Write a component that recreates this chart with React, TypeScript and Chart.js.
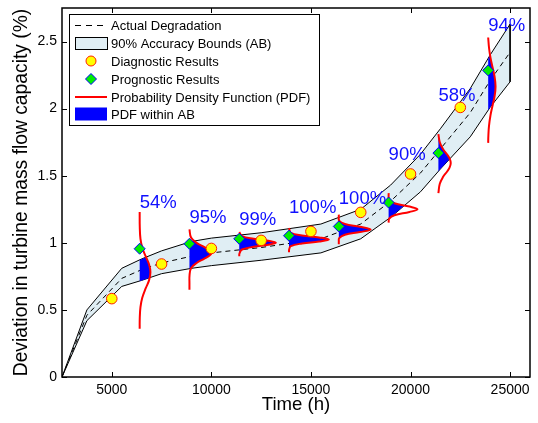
import React, { useEffect, useRef } from 'react';
import { Chart, registerables } from 'chart.js';

Chart.register(...registerables);

const FONT = '"Liberation Sans", Arial, Helvetica, sans-serif';

const xTickValues = [5000, 10000, 15000, 20000, 25000];
const yTickValues = [0, 0.5, 1, 1.5, 2, 2.5];

// Actual degradation and 90% accuracy bounds
const degTime = [2500, 3750, 5500, 6500, 7500, 9000, 10000, 12500, 15500, 17500, 19000, 20500, 21500, 23000, 24000, 25000];
const degValue = [0, 0.46, 0.735, 0.8, 0.85, 0.9, 0.925, 0.965, 1.03, 1.14, 1.31, 1.52, 1.7, 1.97, 2.21, 2.42];
const upperBound = [0, 0.5, 0.81, 0.88, 0.94, 1.01, 1.035, 1.075, 1.14, 1.25, 1.43, 1.66, 1.85, 2.15, 2.4, 2.63];
const lowerBound = [0, 0.42, 0.675, 0.72, 0.77, 0.81, 0.83, 0.87, 0.925, 1.03, 1.19, 1.38, 1.55, 1.79, 2.01, 2.2];

// Diagnostic results
const diagTime = [5000, 7500, 10000, 12500, 15000, 17500, 20000, 22500];
const diagValue = [0.584, 0.842, 0.958, 1.018, 1.085, 1.227, 1.513, 2.009];

// Prognostic results
const progTime = [6400, 8900, 11400, 13900, 16400, 18900, 21400, 23900];
const progValue = [0.956, 0.993, 1.03, 1.053, 1.122, 1.3, 1.669, 2.285];

// Percentage labels
const pdfLabels = ['54%', '95%', '99%', '100%', '100%', '90%', '58%', '94%'];
const labelY = [1.26, 1.15, 1.13, 1.224, 1.29, 1.614, 2.054, 2.575];

// PDF curves: deviation values and horizontal extent (h) from the prognosis time
const pdf1Y = [1.23, 1.12, 1.03, 0.96, 0.9, 0.84, 0.78, 0.72, 0.66, 0.59, 0.52, 0.44, 0.36];
const pdf1W = [0, 5, 40, 140, 300, 470, 540, 470, 300, 130, 40, 5, 0];
const pdf2Y = [1.1, 1.04, 1.0, 0.97, 0.945, 0.925, 0.905, 0.88, 0.85, 0.81, 0.76, 0.7, 0.65];
const pdf2W = [0, 80, 360, 730, 1010, 1100, 1010, 730, 360, 80, 5, 0, 0];
const pdf3Y = [1.08, 1.05, 1.03, 1.015, 1.0, 0.985, 0.97, 0.95, 0.92, 0.9];
const pdf3W = [0, 140, 725, 1460, 1840, 1460, 725, 140, 10, 0];
const pdf4Y = [1.11, 1.075, 1.055, 1.04, 1.025, 1.01, 0.995, 0.975, 0.95, 0.93];
const pdf4W = [0, 90, 650, 1510, 2000, 1510, 650, 90, 5, 0];
const pdf5Y = [1.21, 1.165, 1.14, 1.12, 1.1, 1.08, 1.06, 1.035, 1.01, 0.99];
const pdf5W = [0, 20, 307, 1060, 1600, 1060, 307, 20, 0, 0];
const pdf6Y = [1.37, 1.32, 1.295, 1.27, 1.25, 1.23, 1.205, 1.18, 1.15];
const pdf6W = [0, 30, 290, 1050, 1450, 1050, 290, 30, 0];
const pdf7Y = [1.81, 1.75, 1.7, 1.66, 1.63, 1.595, 1.56, 1.53, 1.49, 1.44, 1.37];
const pdf7W = [0, 70, 230, 430, 560, 620, 560, 430, 230, 70, 0];
const pdf8Y = [2.53, 2.45, 2.38, 2.31, 2.24, 2.165, 2.09, 2.02, 1.95, 1.87, 1.8, 1.745];
const pdf8W = [0, 45, 115, 215, 320, 370, 320, 215, 115, 40, 10, 0];

const pdfYs = [pdf1Y, pdf2Y, pdf3Y, pdf4Y, pdf5Y, pdf6Y, pdf7Y, pdf8Y];
const pdfWs = [pdf1W, pdf2W, pdf3W, pdf4W, pdf5W, pdf6W, pdf7W, pdf8W];

const BAND_FILL = '#e0eef4';
const PDF_BLUE = '#0000ff';
const PDF_RED = '#ff0000';

const pdfFillPlugin = {
  id: 'pdfFill',
  beforeDatasetDraw(chart: any, args: any) {
    const ds = chart.data.datasets[args.index];
    if (ds.pdfBase === undefined) return;
    const ctx = chart.ctx;
    const bandMeta = chart.getDatasetMeta(0);
    const meta = args.meta;
    const line = meta.dataset;
    const pts = meta.data;
    const basePx = chart.scales.x.getPixelForValue(ds.pdfBase);
    ctx.save();
    ctx.beginPath();
    const bp = bandMeta.data;
    ctx.moveTo(bp[0].x, bp[0].y);
    for (let i = 1; i < bp.length; i++) ctx.lineTo(bp[i].x, bp[i].y);
    ctx.closePath();
    ctx.clip();
    ctx.beginPath();
    if (line && typeof line.path === 'function') {
      if (typeof line.updateControlPoints === 'function') line.updateControlPoints(chart.chartArea, meta.indexAxis);
      line.path(ctx);
    } else {
      ctx.moveTo(pts[0].x, pts[0].y);
      for (let i = 1; i < pts.length; i++) ctx.lineTo(pts[i].x, pts[i].y);
    }
    ctx.lineTo(basePx, pts[pts.length - 1].y);
    ctx.lineTo(basePx, pts[0].y);
    ctx.closePath();
    ctx.fillStyle = PDF_BLUE;
    ctx.fill();
    ctx.restore();
  },
};

const labelPlugin = {
  id: 'pdfLabels',
  afterDatasetsDraw(chart: any) {
    const { ctx, scales } = chart;
    ctx.save();
    ctx.font = `18.5px ${FONT}`;
    ctx.fillStyle = '#1010ff';
    ctx.textAlign = 'left';
    ctx.textBaseline = 'alphabetic';
    pdfLabels.forEach((t, i) => {
      ctx.fillText(t, scales.x.getPixelForValue(progTime[i]), scales.y.getPixelForValue(labelY[i]));
    });
    ctx.restore();
  },
};

const framePlugin = {
  id: 'frameLegend',
  afterDraw(chart: any) {
    const { ctx, chartArea: a, scales } = chart;
    ctx.save();
    ctx.strokeStyle = '#000';
    ctx.lineWidth = 1;
    ctx.beginPath();
    for (const v of xTickValues) {
      const px = Math.round(scales.x.getPixelForValue(v)) + 0.5;
      ctx.moveTo(px, a.bottom);
      ctx.lineTo(px, a.bottom - 5);
      ctx.moveTo(px, a.top);
      ctx.lineTo(px, a.top + 5);
    }
    for (const v of yTickValues) {
      const py = Math.round(scales.y.getPixelForValue(v)) + 0.5;
      ctx.moveTo(a.left, py);
      ctx.lineTo(a.left + 5, py);
      ctx.moveTo(a.right, py);
      ctx.lineTo(a.right - 5, py);
    }
    ctx.stroke();
    ctx.lineWidth = 1.5;
    ctx.strokeRect(a.left, a.top, a.right - a.left, a.bottom - a.top);

    // Legend
    const L = a.left + 7;
    const T = a.top + 6;
    ctx.fillStyle = '#fff';
    ctx.fillRect(L, T, 250, 111);
    ctx.lineWidth = 1;
    ctx.strokeStyle = '#000';
    ctx.strokeRect(L + 0.5, T + 0.5, 250, 111);
    const sx0 = L + 6;
    const sx1 = L + 38;
    const tx = L + 42;
    const rows = [T + 11, T + 29, T + 47, T + 65, T + 83, T + 100];
    ctx.beginPath();
    ctx.setLineDash([6, 5]);
    ctx.moveTo(sx0, rows[0] + 0.5);
    ctx.lineTo(sx1, rows[0] + 0.5);
    ctx.stroke();
    ctx.setLineDash([]);
    ctx.fillStyle = BAND_FILL;
    ctx.fillRect(sx0 + 0.5, rows[1] - 5.5, 32, 12);
    ctx.strokeRect(sx0 + 0.5, rows[1] - 5.5, 32, 12);
    const cx = (sx0 + sx1) / 2;
    ctx.beginPath();
    ctx.arc(cx, rows[2], 5, 0, Math.PI * 2);
    ctx.fillStyle = '#ffff00';
    ctx.fill();
    ctx.strokeStyle = '#ff2000';
    ctx.stroke();
    ctx.beginPath();
    ctx.moveTo(cx - 5.5, rows[3]);
    ctx.lineTo(cx, rows[3] - 5.5);
    ctx.lineTo(cx + 5.5, rows[3]);
    ctx.lineTo(cx, rows[3] + 5.5);
    ctx.closePath();
    ctx.fillStyle = '#00ee00';
    ctx.fill();
    ctx.strokeStyle = '#0000ff';
    ctx.stroke();
    ctx.beginPath();
    ctx.strokeStyle = PDF_RED;
    ctx.lineWidth = 2;
    ctx.moveTo(sx0, rows[4]);
    ctx.lineTo(sx1, rows[4]);
    ctx.stroke();
    ctx.fillStyle = PDF_BLUE;
    ctx.fillRect(sx0, rows[5] - 6.5, 32, 13);
    ctx.fillStyle = '#000';
    ctx.font = `13px ${FONT}`;
    ctx.textAlign = 'left';
    ctx.textBaseline = 'middle';
    const texts = [
      'Actual Degradation',
      '90% Accuracy Bounds (AB)',
      'Diagnostic Results',
      'Prognostic Results',
      'Probability Density Function (PDF)',
      'PDF within AB',
    ];
    texts.forEach((t, i) => ctx.fillText(t, tx, rows[i] + 1));
    ctx.restore();
  },
};

export default function App() {
  const ref = useRef<HTMLCanvasElement>(null);
  useEffect(() => {
    const canvas = ref.current;
    if (!canvas) return;
    Chart.defaults.font.family = FONT;
    const bandData = [
      ...degTime.map((t, i) => ({ x: t, y: upperBound[i] })),
      ...degTime.map((t, i) => ({ x: t, y: lowerBound[i] })).reverse(),
    ];
    const pdfDatasets = pdfYs.map((ys, k) => ({
      label: 'PDF ' + (k + 1),
      data: ys.map((y, i) => ({ x: progTime[k] + pdfWs[k][i], y })),
      pdfBase: progTime[k],
      borderColor: PDF_RED,
      borderWidth: 2,
      pointRadius: 0,
      tension: 0.4,
      fill: false,
      order: 5,
    }));
    const zeroPad = (s: any) => {
      s.paddingTop = 0;
      s.paddingBottom = 0;
      s.paddingLeft = 0;
      s.paddingRight = 0;
    };
    const chart = new Chart(canvas, {
      type: 'line',
      data: {
        datasets: [
          {
            label: 'AB',
            data: bandData,
            fill: 'shape',
            backgroundColor: BAND_FILL,
            borderColor: '#000',
            borderWidth: 1,
            pointRadius: 0,
            tension: 0,
            order: 10,
          },
          {
            label: 'Actual Degradation',
            data: degTime.map((t, i) => ({ x: t, y: degValue[i] })),
            borderColor: '#000',
            borderWidth: 1,
            borderDash: [5, 4],
            pointRadius: 0,
            fill: false,
            order: 9,
          },
          ...pdfDatasets,
          {
            label: 'Diagnostic Results',
            data: diagTime.map((t, i) => ({ x: t, y: diagValue[i] })),
            showLine: false,
            pointStyle: 'circle',
            pointRadius: 5.3,
            pointBackgroundColor: '#ffff00',
            pointBorderColor: '#ff2000',
            pointBorderWidth: 1,
            order: 2,
          },
          {
            label: 'Prognostic Results',
            data: progTime.map((t, i) => ({ x: t, y: progValue[i] })),
            showLine: false,
            pointStyle: 'rectRot',
            pointRadius: 5.5,
            pointBackgroundColor: '#00ee00',
            pointBorderColor: '#0000ff',
            pointBorderWidth: 1,
            order: 1,
          },
        ] as any,
      },
      options: {
        responsive: false,
        animation: false,
        devicePixelRatio: 1,
        events: [],
        layout: { padding: { left: 0, right: 8, top: 8, bottom: 0 } },
        plugins: {
          legend: { display: false },
          tooltip: { enabled: false },
        },
        scales: {
          x: {
            type: 'linear',
            min: 2500,
            max: 26000,
            grid: { display: false, drawTicks: false },
            border: { display: false },
            afterBuildTicks: (s: any) => {
              s.ticks = xTickValues.map((v) => ({ value: v }));
            },
            ticks: {
              autoSkip: false,
              maxRotation: 0,
              padding: 5,
              color: '#000',
              font: { size: 14, family: FONT },
              callback: (v: any) => String(v),
            },
            title: {
              display: true,
              text: 'Time (h)',
              color: '#000',
              font: { size: 18.6, family: FONT },
              padding: { top: 0, bottom: 7 },
            },
            afterFit: (s: any) => {
              s.height = 46;
              zeroPad(s);
            },
          },
          y: {
            type: 'linear',
            min: 0,
            max: 2.75,
            grid: { display: false, drawTicks: false },
            border: { display: false },
            afterBuildTicks: (s: any) => {
              s.ticks = yTickValues.map((v) => ({ value: v }));
            },
            ticks: {
              autoSkip: false,
              padding: 5,
              color: '#000',
              font: { size: 14, family: FONT },
              callback: (v: any) => String(v),
            },
            title: {
              display: true,
              text: 'Deviation in turbine mass flow capacity (%)',
              color: '#000',
              font: { size: 19.3, family: FONT },
              padding: { top: 10.5, bottom: 0 },
            },
            afterFit: (s: any) => {
              s.width = 62;
              zeroPad(s);
            },
          },
        },
      } as any,
      plugins: [pdfFillPlugin, labelPlugin, framePlugin] as any,
    });
    return () => chart.destroy();
  }, []);
  return (
    <div style={{ position: 'fixed', left: 0, top: 0, width: 538, height: 423, background: '#fff' }}>
      <canvas ref={ref} width={538} height={423} style={{ display: 'block' }} />
    </div>
  );
}
